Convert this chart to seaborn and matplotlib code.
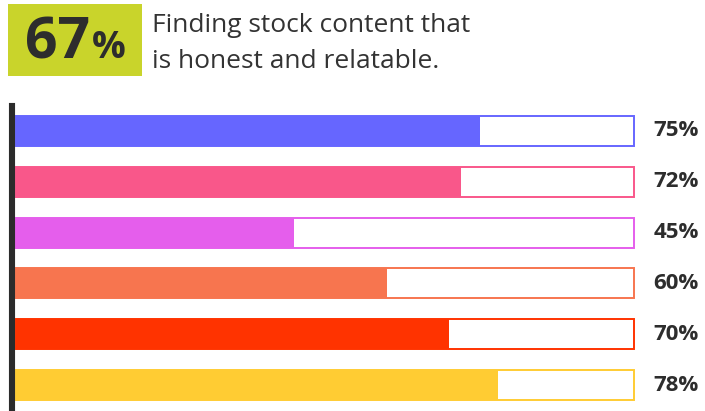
import matplotlib
matplotlib.use("Agg")
import matplotlib.pyplot as plt
import seaborn as sns
import pandas as pd
from matplotlib.patches import Rectangle

# datos del gráfico
categorias = ["A", "B", "C", "D", "E", "F"]
valores = [75, 72, 45, 60, 70, 78]
colores = ["#6666FF", "#F9578A", "#E55EEC", "#F7754F", "#FF3300", "#FFCC33"]
titulo_valor = "67"
titulo_lineas = ["Finding stock content that", "is honest and relatable."]

sns.set_theme(style="white")
plt.rcParams["font.family"] = ["Open Sans", "DejaVu Sans"]

W, H = 705, 411
fig = plt.figure(figsize=(W / 100, H / 100), dpi=100)
fig.patch.set_facecolor("white")

# ejes: 16..634 px en x, 106..411 px en y
ax = fig.add_axes([16 / W, 0, 618 / W, 305 / H])

df = pd.DataFrame({"cat": categorias, "valor": valores, "total": [100] * len(valores)})

# barra completa (contorno)
sns.barplot(data=df, x="total", y="cat", orient="h", hue="cat", palette=["white"] * 6,
            legend=False, width=0.59, ax=ax)
for patch, c in zip(ax.patches, colores):
    patch.set_edgecolor(c)
    patch.set_linewidth(1.4)
    patch.set_clip_on(False)
n = len(ax.patches)
# barra de valor
sns.barplot(data=df, x="valor", y="cat", orient="h", hue="cat", palette=colores,
            legend=False, width=0.59, ax=ax, saturation=1)
for patch in ax.patches[n:]:
    patch.set_linewidth(0)

ax.set_xlim(0, 100)
ax.set_ylim(5.51, -0.49)
ax.set_xlabel("")
ax.set_ylabel("")
ax.set_xticks([])
ax.set_yticks([])
for s in ["top", "right", "bottom"]:
    ax.spines[s].set_visible(False)
ax.spines["left"].set_color("#2b2b2b")
ax.spines["left"].set_linewidth(4.4)
ax.spines["left"].set_position(("outward", 3))

for i, v in enumerate(valores):
    ax.text(1.031, i, f"{v}%", transform=ax.get_yaxis_transform(), ha="left", va="center",
            fontsize=16, fontweight="bold", color="#2d2d2d")

# encabezado
fig.patches.append(Rectangle((8 / W, 1 - 76 / H), 134 / W, 72 / H, transform=fig.transFigure,
                             facecolor="#C9D42B", edgecolor="none"))
t67 = fig.text(0, 1 - 58 / H, titulo_valor, fontsize=41, fontweight="bold",
               color="#2d2d2d", va="baseline", ha="left")
tpc = fig.text(0, 1 - 58 / H, "%", fontsize=27, fontweight="bold",
               color="#2d2d2d", va="baseline", ha="left")
r = fig.canvas.get_renderer()
w67 = t67.get_window_extent(r).width
wpc = tpc.get_window_extent(r).width
gap = 2
x0 = 75 - (w67 + gap + wpc) / 2
t67.set_x(x0 / W)
tpc.set_x((x0 + w67 + gap) / W)

for k, linea in enumerate(titulo_lineas):
    fig.text(152 / W, 1 - (32 + 36 * k) / H, linea, fontsize=19, color="#333333",
             va="baseline", ha="left")

fig.savefig("out.png", dpi=100, facecolor="white")
